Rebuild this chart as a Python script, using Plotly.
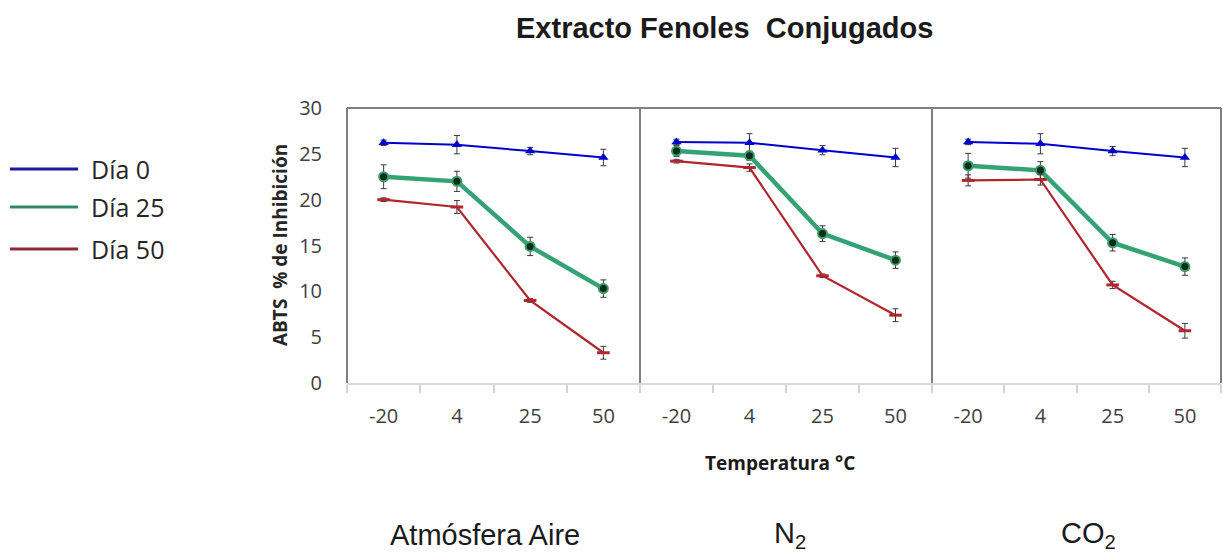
import plotly.graph_objects as go

# Temperature categories (°C)
temps = ["-20", "4", "25", "50"]

# ABTS % inhibition, atmosphere: air
aire_d0 = [26.2, 26.0, 25.3, 24.6]
aire_d0_err = [0.3, 1.0, 0.4, 0.9]
aire_d25 = [22.5, 22.0, 14.9, 10.3]
aire_d25_err = [1.3, 1.1, 1.0, 0.95]
aire_d50 = [20.0, 19.2, 9.0, 3.3]
aire_d50_err = [0.2, 0.7, 0.2, 0.7]

# atmosphere: N2
n2_d0 = [26.3, 26.2, 25.4, 24.6]
n2_d0_err = [0.3, 1.0, 0.5, 1.0]
n2_d25 = [25.3, 24.8, 16.3, 13.4]
n2_d25_err = [0.6, 0.5, 0.85, 0.9]
n2_d50 = [24.2, 23.5, 11.7, 7.4]
n2_d50_err = [0.2, 0.4, 0.2, 0.7]

# atmosphere: CO2
co2_d0 = [26.3, 26.1, 25.3, 24.6]
co2_d0_err = [0.3, 1.1, 0.5, 1.0]
co2_d25 = [23.7, 23.2, 15.3, 12.7]
co2_d25_err = [1.35, 0.95, 0.9, 0.95]
co2_d50 = [22.1, 22.2, 10.7, 5.7]
co2_d50_err = [0.6, 0.6, 0.4, 0.8]

series_names = ["Día 0", "Día 25", "Día 50"]
panel_labels = ["Atmósfera Aire", "N<sub>2</sub>", "CO<sub>2</sub>"]
y_ticks = [0, 5, 10, 15, 20, 25, 30]

W, H = 1223, 554
TOP, BOTTOM = 108, 383  # plot area in pixels


def px_x(p):
    return p / W


def px_y(p):
    return (BOTTOM - p) / (BOTTOM - TOP)


styles = [
    dict(line=dict(color="#0000CC", width=2),
         marker=dict(symbol="triangle-up", size=9, color="#0000CC")),
    dict(line=dict(color="#35A275", width=4.5),
         marker=dict(symbol="circle", size=9, color="#0B2F16",
                     line=dict(color="#3C9A6C", width=2))),
    dict(line=dict(color="#B0262E", width=2.2),
         marker=dict(symbol="line-ew-open", size=9,
                     line=dict(color="#B0262E", width=3))),
]

panels = [
    ([aire_d0, aire_d25, aire_d50], [aire_d0_err, aire_d25_err, aire_d50_err]),
    ([n2_d0, n2_d25, n2_d50], [n2_d0_err, n2_d25_err, n2_d50_err]),
    ([co2_d0, co2_d25, co2_d50], [co2_d0_err, co2_d25_err, co2_d50_err]),
]

fig = go.Figure()
axis_ids = ["x", "x2", "x3"]
for (vals, errs), xid in zip(panels, axis_ids):
    for name, v, e, st in zip(series_names, vals, errs, styles):
        fig.add_trace(go.Scatter(
            x=temps, y=v, name=name, xaxis=xid, yaxis="y",
            mode="lines+markers", showlegend=False,
            line=st["line"], marker=st["marker"],
            error_y=dict(type="data", array=e, visible=True,
                         color="#3a3a3a", thickness=1, width=3),
        ))

domains = [(347, 640), (640, 932), (932, 1221)]
tick_font = dict(family="Open Sans", size=20, color="#404040")
xaxis_common = dict(
    type="category", categoryorder="array", categoryarray=temps,
    range=[-0.5, 3.5], tickson="boundaries", ticks="outside",
    ticklen=8, tickcolor="#d4d4d4", tickwidth=1.5,
    showline=True, linecolor="#d9d9d9", linewidth=1.5,
    showgrid=False, zeroline=False, tickfont=tick_font,
    ticklabelstandoff=14, anchor="y", fixedrange=True,
)

layout = dict(
    width=W, height=H,
    margin=dict(l=0, r=0, t=TOP, b=H - BOTTOM),
    paper_bgcolor="white", plot_bgcolor="white",
    showlegend=False,
    yaxis=dict(range=[0, 30], tickvals=y_ticks, showgrid=False,
               zeroline=False, showline=False, ticks="",
               tickfont=tick_font, ticklabelstandoff=24,
               anchor="x", automargin=False),
)
for i, (xid, (a, b)) in enumerate(zip(axis_ids, domains)):
    key = "xaxis" if i == 0 else f"xaxis{i + 1}"
    layout[key] = dict(xaxis_common, domain=[px_x(a), px_x(b)])
fig.update_layout(**layout)

# Panel frames: left, top and right edges
shapes = []
for i, xid in enumerate(axis_ids):
    xref = f"{xid} domain"
    for x0, y0, x1, y1 in [(0, 0, 0, 1), (0, 1, 1, 1), (1, 1, 1, 0)]:
        shapes.append(dict(type="line", xref=xref, yref="y domain",
                           x0=x0, y0=y0, x1=x1, y1=y1,
                           line=dict(color="#808080", width=2)))

# Legend drawn at the left
legend_colors = ["#1A1A9A", "#2E8B63", "#8E2A36"]
legend_y = [169, 207, 249]
annotations = []
for name, c, ly in zip(series_names, legend_colors, legend_y):
    shapes.append(dict(type="line", xref="paper", yref="paper",
                       x0=px_x(10), x1=px_x(78), y0=px_y(ly), y1=px_y(ly),
                       line=dict(color=c, width=3)))
    annotations.append(dict(text=name, xref="paper", yref="paper",
                            x=px_x(89), y=px_y(ly), xanchor="left",
                            yanchor="middle", showarrow=False,
                            font=dict(family="Open Sans", size=25,
                                      color="#262626")))

annotations += [
    dict(text="<b>Extracto Fenoles\u00a0 Conjugados</b>", xref="paper",
         yref="paper", x=px_x(724), y=px_y(28), xanchor="center",
         yanchor="middle", showarrow=False,
         font=dict(family="Liberation Sans", size=29, color="#1a1a1a")),
    dict(text="<b>ABTS\u00a0 % de Inhibición</b>", xref="paper", yref="paper",
         x=px_x(280), y=px_y(245), textangle=-90, xanchor="center",
         yanchor="middle", showarrow=False,
         font=dict(family="Open Sans", size=19, color="#262626")),
    dict(text="<b>Temperatura °C</b>", xref="paper", yref="paper",
         x=px_x(780), y=px_y(463), xanchor="center", yanchor="middle",
         showarrow=False,
         font=dict(family="Open Sans", size=19, color="#1a1a1a")),
]
for label, cx in zip(panel_labels, [485, 790, 1088]):
    annotations.append(dict(text=label, xref="paper", yref="paper",
                            x=px_x(cx), y=px_y(535), xanchor="center",
                            yanchor="middle", showarrow=False,
                            font=dict(family="Liberation Sans", size=29,
                                      color="#1a1a1a")))

fig.update_layout(shapes=shapes, annotations=annotations)
fig.write_html("out.html")
